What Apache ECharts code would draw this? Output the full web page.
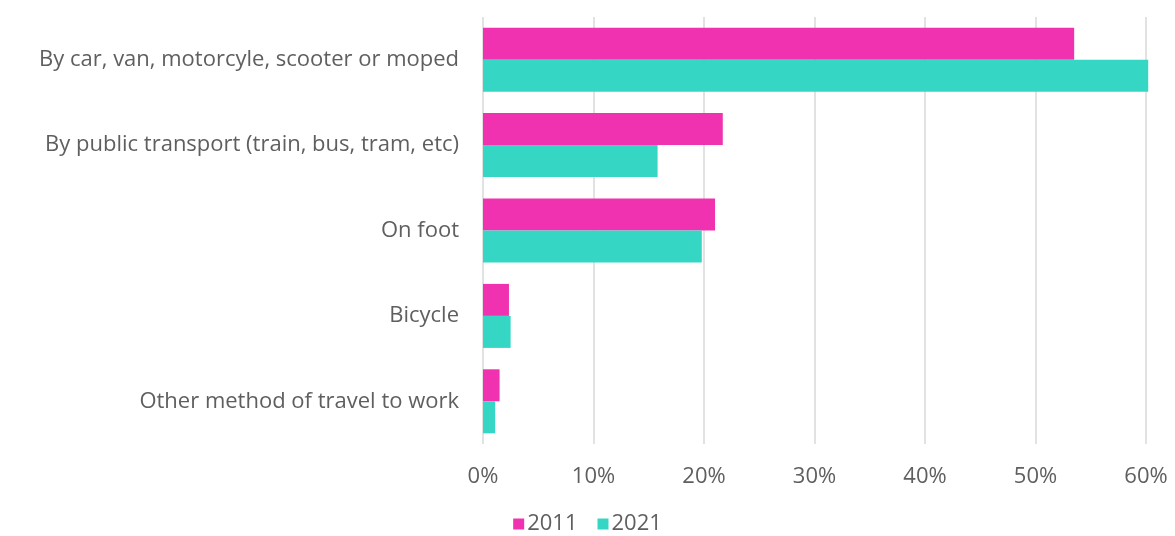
<!DOCTYPE html>
<html>
<head>
<meta charset="utf-8">
<script src="https://cdn.jsdelivr.net/npm/echarts@6/dist/echarts.min.js"></script>
<style>
    html, body { margin: 0; padding: 0; background: #fff; }
    #chart { width: 1175px; height: 536px; }
</style>
</head>
<body>
<div id="chart"></div>
<script>
var categories = [
    'By car, van, motorcyle, scooter or moped',
    'By public transport (train, bus, tram, etc)',
    'On foot',
    'Bicycle',
    'Other method of travel to work'
];
var values2011 = [53.5, 21.7, 21.0, 2.35, 1.5];
var values2021 = [60.2, 15.8, 19.8, 2.5, 1.1];
var axisTicks = [0, 10, 20, 30, 40, 50, 60];

var chart = echarts.init(document.getElementById('chart'));

var font = '"Open Sans", sans-serif';

var option = {
    animation: false,
    textStyle: { fontFamily: font },
    grid: {
        left: 483,
        right: 29,
        top: 17,
        bottom: 92
    },
    legend: {
        top: 508,
        left: 'center',
        itemWidth: 11,
        itemHeight: 11,
        itemGap: 20,
        icon: 'rect',
        textStyle: { fontSize: 22, color: '#5f5f5f', fontFamily: font, padding: [0, 0, 0, -2] },
        data: ['2011', '2021']
    },
    xAxis: {
        type: 'value',
        min: axisTicks[0],
        max: axisTicks[axisTicks.length - 1],
        interval: 10,
        axisLine: { show: false },
        axisTick: { show: false },
        splitLine: { lineStyle: { color: '#d9d9d9', width: 1.5 } },
        axisLabel: {
            fontSize: 22,
            color: '#5f5f5f',
            margin: 22,
            formatter: function (v) { return v + '%'; }
        }
    },
    yAxis: {
        type: 'category',
        inverse: true,
        data: categories,
        axisLine: { show: false },
        axisTick: { show: false },
        axisLabel: {
            fontSize: 22,
            color: '#5f5f5f',
            margin: 24
        }
    },
    series: [
        {
            name: '2011',
            type: 'bar',
            data: values2011,
            barWidth: 32,
            barGap: '0%',
            clip: false,
            itemStyle: { color: '#F032B0' }
        },
        {
            name: '2021',
            type: 'bar',
            data: values2021,
            barWidth: 32,
            barGap: '0%',
            clip: false,
            itemStyle: { color: '#36D6C5' }
        }
    ]
};

chart.setOption(option);
</script>
</body>
</html>
